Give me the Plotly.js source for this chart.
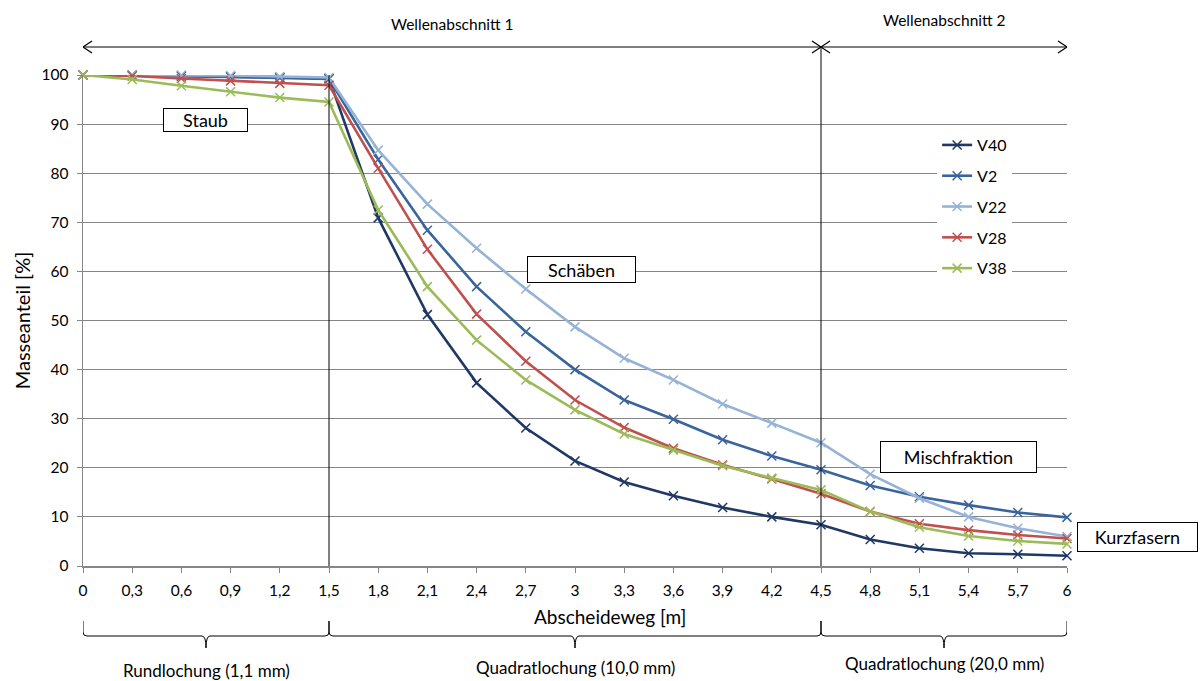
<!DOCTYPE html>
<html>
<head>
<meta charset="utf-8">
<script src="https://cdn.plot.ly/plotly-3.0.1.min.js"></script>
<style>html,body{margin:0;padding:0;background:#fff;}#chart{width:1202px;height:681px;}</style>
</head>
<body>
<div id="chart"></div>
<script>
const xValues = [0, 0.3, 0.6, 0.9, 1.2, 1.5, 1.8, 2.1, 2.4, 2.7, 3, 3.3, 3.6, 3.9, 4.2, 4.5, 4.8, 5.1, 5.4, 5.7, 6];
const xTickLabels = ["0","0,3","0,6","0,9","1,2","1,5","1,8","2,1","2,4","2,7","3","3,3","3,6","3,9","4,2","4,5","4,8","5,1","5,4","5,7","6"];
const seriesNames = ["V40", "V2", "V22", "V28", "V38"];
const V40 = [100, 100, 99.8, 99.7, 99.5, 99.3, 70.9, 51.2, 37.3, 28.1, 21.4, 17.1, 14.3, 11.9, 10.0, 8.4, 5.4, 3.6, 2.6, 2.4, 2.1];
const V2  = [100, 99.9, 99.8, 99.6, 99.4, 99.2, 82.8, 68.4, 56.9, 47.7, 40.0, 33.8, 29.9, 25.7, 22.4, 19.6, 16.4, 14.1, 12.4, 10.9, 9.9];
const V22 = [100, 100, 100, 99.9, 99.7, 99.5, 84.7, 73.7, 64.7, 56.4, 48.7, 42.3, 37.9, 33.0, 29.1, 25.1, 18.7, 13.8, 10.0, 7.7, 6.0];
const V28 = [100, 99.8, 99.3, 98.8, 98.3, 97.9, 81.0, 64.5, 51.3, 41.7, 33.8, 28.2, 24.0, 20.6, 17.7, 14.7, 11.1, 8.6, 7.3, 6.3, 5.6];
const V38 = [100, 99.1, 97.8, 96.6, 95.4, 94.5, 72.5, 56.9, 46.0, 37.9, 31.8, 26.9, 23.6, 20.4, 17.9, 15.5, 11.1, 7.9, 6.1, 5.1, 4.5];
const seriesData = [V40, V2, V22, V28, V38];
const seriesColors = ["#1F3864", "#3A649C", "#95B3D7", "#C0504D", "#9BBB59"];

const sectionBounds = [0, 1.5, 4.5, 6];
const sectionLabels = ["Rundlochung (1,1 mm)", "Quadratlochung (10,0 mm)", "Quadratlochung (20,0 mm)"];
const waveLabels = ["Wellenabschnitt 1", "Wellenabschnitt 2"];
const boxLabels = ["Staub", "Schäben", "Mischfraktion", "Kurzfasern"];
const xTitle = "Abscheideweg [m]";
const yTitle = "Masseanteil [%]";

const FONT = "Lato, 'Open Sans', sans-serif";

const traces = seriesNames.map((n, i) => ({
  type: "scatter", mode: "lines+markers", name: n,
  x: xValues, y: seriesData[i], legendgroup: n,
  line: {color: seriesColors[i], width: 2.6},
  marker: {symbol: "x-thin-open", size: 9, color: seriesColors[i], line: {color: seriesColors[i], width: 1.5}},
  cliponaxis: false
}));

// pixel helpers: plot area is 984 x 491 px, origin at (83, 566)
const PY = 1 / 491;
const PX = 6 / 984;
const px2paperX = p => (p - 83) / 984;
const px2paperY = p => (566 - p) / 491;

const shapes = [];
shapes.push({type: "line", xref: "x", yref: "paper", x0: sectionBounds[1], x1: sectionBounds[1], y0: 0, y1: 1, line: {color: "#000", width: 1}});
const arrowY = px2paperY(47);
shapes.push({type: "line", xref: "x", yref: "paper", x0: sectionBounds[2], x1: sectionBounds[2], y0: 0, y1: arrowY, line: {color: "#000", width: 1}});
function arrow(xa, xb) {
  const ah = 9 * PX, av = 6 * PY;
  shapes.push({type: "line", xref: "x", yref: "paper", x0: xa, x1: xb, y0: arrowY, y1: arrowY, line: {color: "#000", width: 1.2}});
  shapes.push({type: "path", xref: "x", yref: "paper", path: `M ${xa + ah},${arrowY + av} L ${xa},${arrowY} L ${xa + ah},${arrowY - av}`, line: {color: "#000", width: 1.2}});
  shapes.push({type: "path", xref: "x", yref: "paper", path: `M ${xb - ah},${arrowY + av} L ${xb},${arrowY} L ${xb - ah},${arrowY - av}`, line: {color: "#000", width: 1.2}});
}
arrow(sectionBounds[0], sectionBounds[2]);
arrow(sectionBounds[2], sectionBounds[3]);
const yTop = px2paperY(621), yLine = px2paperY(636), yBot = px2paperY(648), yMid = px2paperY(632);
for (let i = 0; i < 3; i++) {
  const a = sectionBounds[i], b = sectionBounds[i + 1], c = (a + b) / 2, d = 4 * PX;
  shapes.push({type: "path", xref: "x", yref: "paper",
    path: `M ${a},${yTop} L ${a},${yMid} Q ${a},${yLine} ${a + d},${yLine} L ${c - d},${yLine} Q ${c},${yLine} ${c},${yBot} Q ${c},${yLine} ${c + d},${yLine} L ${b - d},${yLine} Q ${b},${yLine} ${b},${yMid} L ${b},${yTop}`,
    line: {color: "#000", width: 1}});
}

const annotations = [];
const waveY = [24, 20];
for (let i = 0; i < 2; i++) {
  const a = i === 0 ? sectionBounds[0] : sectionBounds[2];
  const b = i === 0 ? sectionBounds[2] : sectionBounds[3];
  annotations.push({xref: "x", yref: "paper", x: (a + b) / 2, y: px2paperY(waveY[i]), xanchor: "center", yanchor: "middle", text: waveLabels[i], showarrow: false, font: {family: FONT, size: 15.5, color: "#000"}});
}
const secLabelY = [670, 667, 663];
for (let i = 0; i < 3; i++) {
  annotations.push({xref: "x", yref: "paper", x: (sectionBounds[i] + sectionBounds[i + 1]) / 2, y: px2paperY(secLabelY[i]), xanchor: "center", yanchor: "middle", text: sectionLabels[i], showarrow: false, font: {family: FONT, size: 17, color: "#000"}});
}
// x-axis title (off-centre in the original)
annotations.push({xref: "paper", yref: "paper", x: px2paperX(610), y: px2paperY(616), xanchor: "center", yanchor: "middle", text: xTitle, showarrow: false, font: {family: FONT, size: 19, color: "#000"}});
// text boxes: centre and size in pixels of the picture
const boxGeom = [[205.5, 120, 85, 24], [581.5, 269.5, 109, 27], [958.5, 457, 157, 32], [1137.5, 537, 121, 30]];
boxLabels.forEach((t, i) => {
  const g = boxGeom[i];
  annotations.push({xref: "paper", yref: "paper", x: px2paperX(g[0]), y: px2paperY(g[1]), xanchor: "center", yanchor: "middle", text: t, showarrow: false, width: g[2] - 2, height: g[3] - 2, bgcolor: "#fff", bordercolor: "#000", borderwidth: 1, borderpad: 0, font: {family: FONT, size: 18, color: "#000"}});
});

const layout = {
  width: 1202, height: 681,
  margin: {l: 83, r: 135, t: 75, b: 115},
  paper_bgcolor: "#fff", plot_bgcolor: "#fff",
  font: {family: FONT, color: "#000", size: 14},
  showlegend: true,
  legend: {x: 0.868, y: 0.892, xanchor: "left", yanchor: "top", bgcolor: "#fff", borderwidth: 0, font: {family: FONT, size: 16, color: "#000"}, tracegroupgap: 7, itemwidth: 30},
  xaxis: {
    range: [0, 6], tickmode: "array", tickvals: xValues, ticktext: xTickLabels,
    showgrid: false, zeroline: false, showline: true, linecolor: "#868686", linewidth: 1.5,
    ticks: "outside", ticklen: 5, tickcolor: "#868686", ticklabelstandoff: 5,
    tickfont: {family: FONT, size: 15.5, color: "#000"}
  },
  yaxis: {
    range: [0, 100], tickmode: "linear", tick0: 0, dtick: 10,
    showgrid: true, gridcolor: "#868686", gridwidth: 1, zeroline: false,
    showline: true, linecolor: "#868686", linewidth: 1.5,
    ticks: "outside", ticklen: 5, tickcolor: "#868686", ticklabelstandoff: 5,
    tickfont: {family: FONT, size: 15.5, color: "#000"},
    title: {text: yTitle, font: {family: FONT, size: 20, color: "#000"}, standoff: 5}
  },
  shapes: shapes, annotations: annotations
};

Plotly.newPlot("chart", traces, layout, {displayModeBar: false, staticPlot: true});
</script>
</body>
</html>
